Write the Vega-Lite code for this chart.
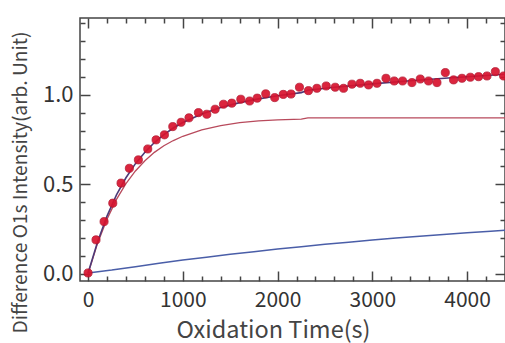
{
  "$schema": "https://vega.github.io/schema/vega-lite/v6.json",
  "autosize": {"type": "none"},
  "width": 425,
  "height": 263,
  "padding": {"left": 80, "top": 18, "right": 0, "bottom": 62},
  "background": "white",
  "config": {
    "view": {"stroke": "#444", "strokeWidth": 1.5},
    "font": "Noto Sans CJK JP",
    "axis": {"grid": false, "domain": false, "tickColor": "#444", "tickWidth": 1.5, "labelColor": "#333", "titleColor": "#444", "labelFont": "Noto Sans CJK JP", "titleFont": "Noto Sans CJK JP", "titleFontWeight": "normal"}
  },
  "datasets": {
    "curves": [
      {"t": 0, "y": 0.005, "c": "blue"},
      {"t": 250, "y": 0.021, "c": "blue"},
      {"t": 500, "y": 0.040, "c": "blue"},
      {"t": 750, "y": 0.059, "c": "blue"},
      {"t": 1000, "y": 0.077, "c": "blue"},
      {"t": 1250, "y": 0.093, "c": "blue"},
      {"t": 1500, "y": 0.109, "c": "blue"},
      {"t": 1750, "y": 0.124, "c": "blue"},
      {"t": 2000, "y": 0.139, "c": "blue"},
      {"t": 2250, "y": 0.152, "c": "blue"},
      {"t": 2500, "y": 0.165, "c": "blue"},
      {"t": 2750, "y": 0.177, "c": "blue"},
      {"t": 3000, "y": 0.189, "c": "blue"},
      {"t": 3250, "y": 0.200, "c": "blue"},
      {"t": 3500, "y": 0.210, "c": "blue"},
      {"t": 3750, "y": 0.220, "c": "blue"},
      {"t": 4000, "y": 0.229, "c": "blue"},
      {"t": 4250, "y": 0.238, "c": "blue"},
      {"t": 4450, "y": 0.245, "c": "blue"},
      {"t": 0, "y": 0.0, "c": "red"},
      {"t": 100, "y": 0.170, "c": "red"},
      {"t": 200, "y": 0.306, "c": "red"},
      {"t": 300, "y": 0.416, "c": "red"},
      {"t": 400, "y": 0.504, "c": "red"},
      {"t": 500, "y": 0.575, "c": "red"},
      {"t": 600, "y": 0.632, "c": "red"},
      {"t": 700, "y": 0.679, "c": "red"},
      {"t": 800, "y": 0.716, "c": "red"},
      {"t": 900, "y": 0.745, "c": "red"},
      {"t": 1000, "y": 0.769, "c": "red"},
      {"t": 1200, "y": 0.805, "c": "red"},
      {"t": 1400, "y": 0.829, "c": "red"},
      {"t": 1600, "y": 0.845, "c": "red"},
      {"t": 1800, "y": 0.855, "c": "red"},
      {"t": 2000, "y": 0.861, "c": "red"},
      {"t": 2250, "y": 0.865, "c": "red"},
      {"t": 2320, "y": 0.872, "c": "red"},
      {"t": 4450, "y": 0.872, "c": "red"},
      {"t": 0, "y": 0.005, "c": "fit"},
      {"t": 100, "y": 0.178, "c": "fit"},
      {"t": 200, "y": 0.323, "c": "fit"},
      {"t": 300, "y": 0.441, "c": "fit"},
      {"t": 400, "y": 0.537, "c": "fit"},
      {"t": 500, "y": 0.616, "c": "fit"},
      {"t": 600, "y": 0.680, "c": "fit"},
      {"t": 700, "y": 0.734, "c": "fit"},
      {"t": 800, "y": 0.778, "c": "fit"},
      {"t": 900, "y": 0.815, "c": "fit"},
      {"t": 1000, "y": 0.846, "c": "fit"},
      {"t": 1200, "y": 0.894, "c": "fit"},
      {"t": 1400, "y": 0.930, "c": "fit"},
      {"t": 1600, "y": 0.957, "c": "fit"},
      {"t": 1800, "y": 0.978, "c": "fit"},
      {"t": 2000, "y": 0.995, "c": "fit"},
      {"t": 2250, "y": 1.013, "c": "fit"},
      {"t": 2320, "y": 1.026, "c": "fit"},
      {"t": 2600, "y": 1.043, "c": "fit"},
      {"t": 3000, "y": 1.062, "c": "fit"},
      {"t": 3400, "y": 1.079, "c": "fit"},
      {"t": 3800, "y": 1.095, "c": "fit"},
      {"t": 4200, "y": 1.109, "c": "fit"},
      {"t": 4450, "y": 1.117, "c": "fit"}
    ],
    "points": [
      {"t": 0, "y": 0.005}, {"t": 84, "y": 0.19}, {"t": 169, "y": 0.292}, {"t": 261, "y": 0.395},
      {"t": 348, "y": 0.507}, {"t": 436, "y": 0.59}, {"t": 531, "y": 0.637}, {"t": 630, "y": 0.698},
      {"t": 718, "y": 0.749}, {"t": 806, "y": 0.777}, {"t": 894, "y": 0.823}, {"t": 982, "y": 0.847},
      {"t": 1065, "y": 0.872}, {"t": 1165, "y": 0.901}, {"t": 1253, "y": 0.892}, {"t": 1341, "y": 0.92},
      {"t": 1429, "y": 0.948}, {"t": 1517, "y": 0.954}, {"t": 1612, "y": 0.976}, {"t": 1705, "y": 0.966},
      {"t": 1785, "y": 0.982}, {"t": 1875, "y": 1.006}, {"t": 1970, "y": 0.985}, {"t": 2060, "y": 1.003},
      {"t": 2142, "y": 1.005}, {"t": 2231, "y": 1.043}, {"t": 2326, "y": 1.024}, {"t": 2415, "y": 1.037},
      {"t": 2513, "y": 1.05}, {"t": 2608, "y": 1.043}, {"t": 2696, "y": 1.037}, {"t": 2785, "y": 1.06},
      {"t": 2872, "y": 1.065}, {"t": 2960, "y": 1.056}, {"t": 3049, "y": 1.065}, {"t": 3144, "y": 1.093},
      {"t": 3231, "y": 1.078}, {"t": 3319, "y": 1.078}, {"t": 3418, "y": 1.069}, {"t": 3506, "y": 1.089},
      {"t": 3593, "y": 1.078}, {"t": 3682, "y": 1.069}, {"t": 3770, "y": 1.125}, {"t": 3857, "y": 1.084},
      {"t": 3946, "y": 1.093}, {"t": 4034, "y": 1.099}, {"t": 4121, "y": 1.102}, {"t": 4210, "y": 1.106},
      {"t": 4298, "y": 1.13}, {"t": 4385, "y": 1.106}
    ]
  },
  "resolve": {"axis": {"x": "independent", "y": "independent"}},
  "layer": [
    {
      "data": {"name": "curves"},
      "transform": [{"filter": "datum.c === 'blue'"}],
      "mark": {"type": "line", "color": "#4a5ea8", "strokeWidth": 1.5, "clip": true},
      "encoding": {
        "x": {"field": "t", "type": "quantitative", "scale": {"domain": [-85, 4400], "nice": false, "zero": false},
          "axis": {"orient": "bottom", "values": [0, 1000, 2000, 3000, 4000], "format": "d", "tickSize": -10, "labelPadding": 18, "labelFontSize": 21,
            "title": "Oxidation Time(s)", "titleFontSize": 23.5, "titleX": 193, "titleY": 56, "titleBaseline": "alphabetic", "titleAlign": "center"}},
        "y": {"field": "y", "type": "quantitative", "scale": {"domain": [-0.04, 1.43], "nice": false, "zero": false},
          "axis": {"orient": "left", "values": [0, 0.5, 1.0], "format": ".1f", "tickSize": -10, "labelPadding": 17, "labelFontSize": 22,
            "title": "Difference O1s Intensity(arb. Unit)", "titleFontSize": 19.2, "titleX": -60, "titleY": 164, "titleAngle": -90, "titleAlign": "center", "titleBaseline": "middle"}}
      }
    },
    {
      "data": {"name": "curves"},
      "transform": [{"filter": "datum.c === 'red'"}],
      "mark": {"type": "line", "color": "#b84a5c", "strokeWidth": 1.3, "clip": true},
      "encoding": {
        "x": {"field": "t", "type": "quantitative",
          "axis": {"orient": "bottom", "values": [200, 400, 600, 800, 1200, 1400, 1600, 1800, 2200, 2400, 2600, 2800, 3200, 3400, 3600, 3800, 4200, 4400], "tickSize": -5, "labels": false, "title": null}},
        "y": {"field": "y", "type": "quantitative",
          "axis": {"orient": "left", "values": [0.1, 0.2, 0.3, 0.4, 0.6, 0.7, 0.8, 0.9, 1.1, 1.2, 1.3, 1.4], "tickSize": -5, "labels": false, "title": null}}
      }
    },
    {
      "data": {"name": "curves"},
      "transform": [{"filter": "datum.c === 'fit'"}],
      "mark": {"type": "line", "color": "#4d3a78", "strokeWidth": 1.6, "clip": true},
      "encoding": {
        "x": {"field": "t", "type": "quantitative",
          "axis": {"orient": "top", "values": [0, 1000, 2000, 3000, 4000], "tickSize": -10, "labels": false, "title": null}},
        "y": {"field": "y", "type": "quantitative",
          "axis": {"orient": "right", "values": [0, 0.5, 1.0], "tickSize": -10, "labels": false, "title": null}}
      }
    },
    {
      "data": {"name": "points"},
      "mark": {"type": "circle", "size": 66, "color": "#d8132e", "opacity": 0.92, "stroke": "#b00f28", "strokeWidth": 0.8, "clip": true},
      "encoding": {
        "x": {"field": "t", "type": "quantitative",
          "axis": {"orient": "top", "values": [200, 400, 600, 800, 1200, 1400, 1600, 1800, 2200, 2400, 2600, 2800, 3200, 3400, 3600, 3800, 4200, 4400], "tickSize": -5, "labels": false, "title": null}},
        "y": {"field": "y", "type": "quantitative",
          "axis": {"orient": "right", "values": [0.1, 0.2, 0.3, 0.4, 0.6, 0.7, 0.8, 0.9, 1.1, 1.2, 1.3, 1.4], "tickSize": -5, "labels": false, "title": null}}
      }
    }
  ]
}
